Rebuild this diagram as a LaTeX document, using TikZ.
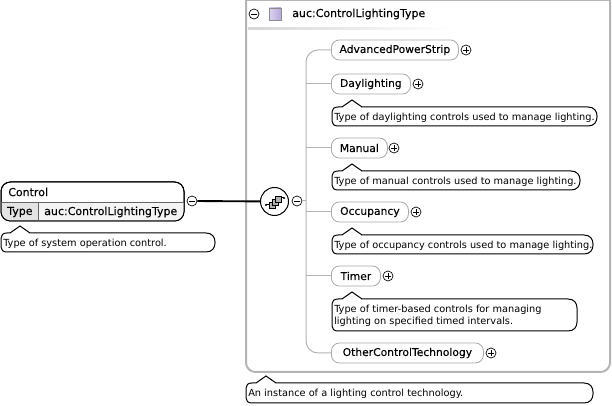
\documentclass[tikz,border=0pt]{standalone}
\usepackage{fontspec}
\setmainfont{DejaVu Sans}
\newfontfamily\medfont[FakeBold=0.12]{DejaVu Sans}
\usetikzlibrary{positioning}
\definecolor{grayline}{HTML}{B4B4B4}
\definecolor{boxline}{HTML}{A8A8A8}
\definecolor{typefill}{HTML}{E4E4E4}
\definecolor{headfill}{HTML}{F4F4F4}
\definecolor{lavlight}{HTML}{DCD4F0}
\definecolor{lavdark}{HTML}{B8A8DC}
\newcommand{\txtsize}{\fontsize{7.33pt}{9.6pt}\selectfont}
\newcommand{\medsize}{\medfont\fontsize{8.25pt}{10pt}\selectfont}
\newcommand{\elemsize}{\medfont\fontsize{8.05pt}{10pt}\selectfont}
\newcommand{\annot}[6]{% name x1 y1 x2 y2 tipx
  \draw[annoline] (#2+6,#3) -- (#6-10,#3) -- (#6,#3-7) -- (#6+10,#3) -- (#4-9,#3)
    .. controls (#4-3,#3) and (#4,#3+4) .. (#4,#3+9) -- (#4,#5-9)
    .. controls (#4,#5-4) and (#4-3,#5) .. (#4-9,#5) -- (#2+6,#5)
    .. controls (#2+2,#5) and (#2,#5-2) .. (#2,#5-5) -- (#2,#3+5)
    .. controls (#2,#3+2) and (#2+2,#3) .. (#2+6,#3) -- cycle;
  \coordinate (#1) at (#2+1,#3+1);
}
\tikzset{
  x=0.75pt,y=-0.75pt,
  annoline/.style={draw=black,line width=0.75pt,fill=white},
  elem/.style={draw=boxline,line width=0.6pt,rounded corners=6pt,fill=white,minimum height=15pt,inner sep=0pt,anchor=west,font=\elemsize},
  elemtext/.style={font=\medsize,anchor=west,inner sep=0pt},
  annotext/.style={font=\txtsize,anchor=west,inner sep=0pt,align=left,text depth=0pt},
  btn/.style={circle,draw=black,line width=0.5pt,fill=white,minimum size=7.5pt,inner sep=0pt},
  branch/.style={draw=grayline,line width=0.75pt},
}
\newcommand{\minusbtn}[2]{\node[btn] (#1) at #2 {}; \draw[line width=0.5pt] ([xshift=-2pt]#1.center) -- ([xshift=2pt]#1.center);}
\newcommand{\plusbtn}[2]{\node[btn] (#1) at #2 {}; \draw[line width=0.5pt] ([xshift=-2pt]#1.center) -- ([xshift=2pt]#1.center) ([yshift=-2pt]#1.center) -- ([yshift=2pt]#1.center);}
\newcommand{\elembox}[5]{% name x y width label
  \node[elem,minimum width=#4*0.75pt,text width=#4*0.75pt,align=center] (#1) at (#2,#3) {#5};
}
\begin{document}
\begin{tikzpicture}
\useasboundingbox (0,0) rectangle (612,406);
\fill[white] (0,0) rectangle (612,406);
% container
\draw[grayline,line width=1.5pt,rounded corners=7pt] (246,-4) -- (246,372) -- (610,372) -- (610,-4);
\draw[grayline,line width=1pt] (246,0.5) -- (610,0.5);
\shade[left color=grayline!55,right color=white] (248,28) rectangle (450,30);
\minusbtn{hm}{(254,14)}
\node[draw=black!45,line width=0.5pt,minimum size=9pt,inner sep=0pt,left color=lavlight,right color=lavdark] (sq) at (275,14) {};
\node[elemtext] (ht) at (292,14) {auc:ControlLightingType};
% elements
\elembox{e1}{331}{50}{127}{AdvancedPowerStrip}
\elembox{e2}{331}{84}{79}{Daylighting}
\elembox{e3}{331}{148}{56}{Manual}
\elembox{e4}{331}{212}{77}{Occupancy}
\elembox{e5}{331}{276}{49}{Timer}
\elembox{e6}{331}{353}{152}{OtherControlTechnology}
\plusbtn{p1}{(466,50)}
\plusbtn{p2}{(418,84)}
\plusbtn{p3}{(394,148)}
\plusbtn{p4}{(416,212)}
\plusbtn{p5}{(388,276)}
\plusbtn{p6}{(491,353)}
% compositor
\node[circle,draw=black,line width=0.75pt,fill=white,minimum size=21pt,inner sep=0pt] (comp) at (274.5,201.5) {};
\minusbtn{cm}{(297,201)}
\coordinate (sp) at (306,201);
\draw[branch] (cm) -- (sp);
\draw[branch,rounded corners=9pt] (e1.west) -- (306,50) -- (306,353) -- (e6.west);
\foreach \e in {e2,e3,e4,e5}{\draw[branch] (\e.west) -- (306,0|-\e.west);}
% compositor icon
\draw[line width=0.75pt] (266,205) -- (272,205) (278,198) -- (284,198);
\foreach \a/\b in {272/205,275/202,278/199}{\draw[fill=gray!60,line width=0.5pt] (\a-3,\b-3) rectangle (\a+3,\b+3);}
\fill (266,205) circle[radius=1.2];
\fill (284,198) circle[radius=1.2];
% control
\draw[black,line width=0.75pt,fill=white,rounded corners=7pt] (1,182) rectangle (184,221);
\begin{scope}
\clip[rounded corners=7pt] (1,182) rectangle (184,221);
\fill[headfill] (1,202) rectangle (184,221);
\fill[typefill] (1,202) rectangle (38,221);
\end{scope}
\draw[black,line width=0.75pt,rounded corners=7pt] (1,182) rectangle (184,221);
\draw[black!60,line width=0.5pt] (1,202) -- (184,202) (38,202) -- (38,221);
\node[elemtext] (ctl) at (8,192) {Control};
\node[elemtext] (typ) at (7,212) {Type};
\node[elemtext] (typv) at (44,212) {auc:ControlLightingType};
\minusbtn{cb}{(192,201)}
\draw[black,line width=1.4pt] (cb) -- (comp);
% annotations
\annot{a0}{1}{233}{215}{252}{20}
\node[annotext] at (3,242.5) {Type of system operation control.};
\annot{a2}{332}{107}{597}{126}{352}
\node[annotext] at (334,116.5) {Type of daylighting controls used to manage lighting.};
\annot{a3}{332}{171}{580}{190}{352}
\node[annotext] at (334,180.5) {Type of manual controls used to manage lighting.};
\annot{a4}{332}{235}{593}{254}{352}
\node[annotext] at (334,244.5) {Type of occupancy controls used to manage lighting.};
\annot{a5}{332}{299}{577}{331}{352}
\node[annotext] at (334,309) {Type of timer-based controls for managing};
\node[annotext] at (334,321) {lighting on specified timed intervals.};
\annot{a6}{246}{383}{593}{403}{266}
\node[annotext] at (248,393) {An instance of a lighting control technology.};
\end{tikzpicture}
\end{document}
